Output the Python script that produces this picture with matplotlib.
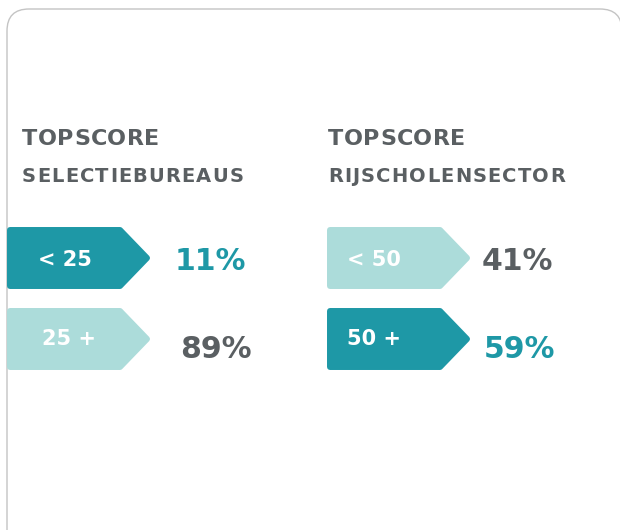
import matplotlib.pyplot as plt
from matplotlib.patches import Polygon, FancyBboxPatch

# Data
titles = ['TOPSCORE', 'TOPSCORE']
subtitles = ['SELECTIEBUREAUS', 'RIJSCHOLENSECTOR']
tag_labels = [['< 25', '25 +'], ['< 50', '50 +']]
percents = [[11, 89], [41, 59]]
dark = [[True, False], [False, True]]

teal = '#1e98a6'
light = '#acdcda'
grey = '#5a5f62'

plt.rcParams['font.family'] = ['DejaVu Sans']

fig = plt.figure(figsize=(6.2, 5.3), dpi=100)
ax = fig.add_axes([0, 0, 1, 1])
ax.set_xlim(0, 620)
ax.set_ylim(530, 0)
ax.axis('off')
renderer = fig.canvas.get_renderer()


def spaced_text(x, y, s, track, **kw):
    # matplotlib has no letter spacing, so place glyph by glyph
    for ch in s:
        t = ax.text(x, y, ch, ha='left', va='center', **kw)
        x += t.get_window_extent(renderer=renderer).width + track


# card border
card = FancyBboxPatch((7, 9), 615, 560, boxstyle='round,pad=0,rounding_size=22',
                      fc='white', ec='#c4c4c4', lw=1.0, zorder=0)
ax.add_patch(card)

col_x = [7, 327]
row_y = [227, 308]
tag_w, tag_h, tip = 143, 62, 28
pct_x = [[175, 180], [482, 484]]
pct_dy = [3, 11]
lab_x = [[38, 42], [347, 347]]
p = 3

for c in range(2):
    x0 = col_x[c]
    tx = 22 if c == 0 else 328
    spaced_text(tx, 139, titles[c], 0.5, fontsize=16, fontweight='heavy', color=grey)
    spaced_text(tx, 176, subtitles[c], 1.2, fontsize=14, fontweight='heavy', color=grey)
    for r in range(2):
        y0 = row_y[r]
        col = teal if dark[c][r] else light
        ax.add_patch(Polygon([(x0 + p, y0 + p), (x0 + tag_w - tip - 2, y0 + p),
                              (x0 + tag_w - p, y0 + tag_h / 2),
                              (x0 + tag_w - tip - 2, y0 + tag_h - p), (x0 + p, y0 + tag_h - p)],
                             closed=True, fc=col, ec=col, lw=4.3, joinstyle='round', zorder=2))
        ax.text(lab_x[c][r], y0 + tag_h / 2 + (0 if r == 1 else 2), tag_labels[c][r],
                fontsize=15, fontweight='bold', color='white', va='center', ha='left', zorder=3)
        ax.text(pct_x[c][r], y0 + tag_h / 2 + pct_dy[r], f'{percents[c][r]}%',
                fontsize=21.5, fontweight='bold', color=teal if dark[c][r] else grey,
                va='center', ha='left', zorder=3)

fig.savefig('out.png', dpi=100, facecolor='white')
